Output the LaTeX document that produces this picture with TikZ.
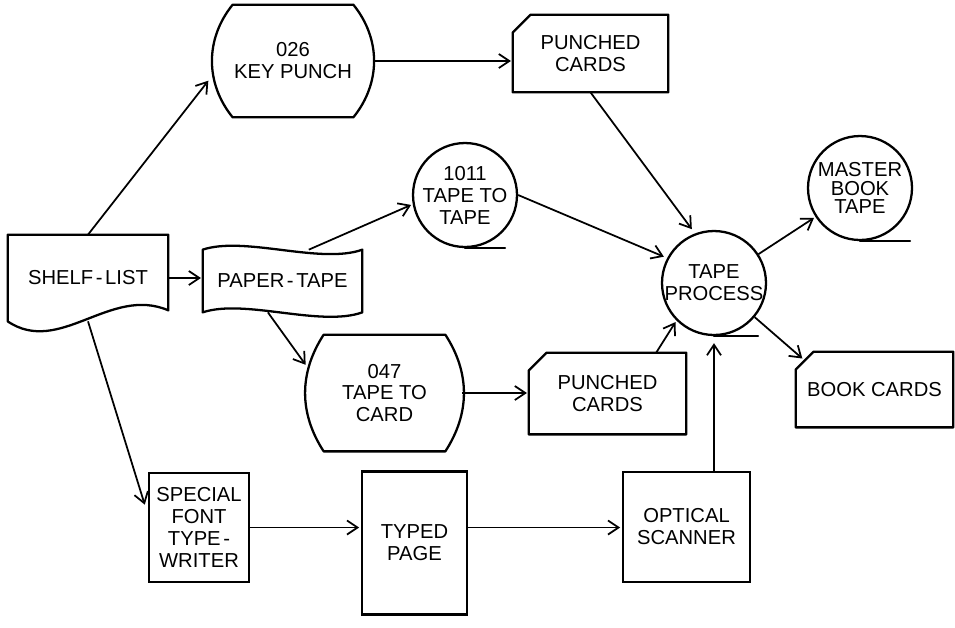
\documentclass[tikz,border=0pt]{standalone}
\usepackage{fontspec}
\setmainfont{Liberation Sans}
\usetikzlibrary{positioning}
\usetikzlibrary{calc}
\usetikzlibrary{arrows.meta}

\begin{document}
\begin{tikzpicture}[x=0.02cm, y=-0.02cm,
  outline/.style={line width=1.3pt, line join=round, line cap=round},
  link/.style={line width=1pt, -{Straight Barb[length=6pt,width=8pt]}, shorten >=1pt},
  lbl/.style={align=center, inner sep=0pt, font=\fontsize{11.5}{12.5}\selectfont},
  reel/.style={lbl, circle, draw, line width=1.3pt, inner sep=-3pt, minimum size=2.08cm},
  plain/.style={lbl, rectangle, draw, line width=1.3pt}]

\useasboundingbox (0,0) rectangle (955,627);

%---------------------------------------
% Outline helpers
%---------------------------------------
\def\cardoutline#1{%
  \draw[outline] (#1.south west) -- ($(#1.north west)+(0,18)$)
     -- ($(#1.north west)+(18,0)$) -- (#1.north east) -- (#1.south east) -- cycle;}
\def\machineoutline#1#2#3{% node, inset, bend
  \draw[outline] ($(#1.north west)+(#2,0)$) -- ($(#1.north east)+(-#2,0)$)
     to[bend left=#3] ($(#1.south east)+(-#2,0)$) -- ($(#1.south west)+(#2,0)$)
     to[bend left=#3] ($(#1.north west)+(#2,0)$);}
\def\dash{\kern1.5pt-\kern1.5pt}

%====================================================
% Source document and paper tape
%====================================================
\node[lbl, minimum width=3.2cm, minimum height=1.72cm] (shelf) at (88,278) {SHELF\dash LIST};
\draw[outline] (shelf.south west) -- (shelf.north west) -- (shelf.north east)
   -- ($(shelf.south east)+(0,-11)$) .. controls +(-58,-25) and +(52,35) .. (shelf.south west);

\node[lbl, minimum width=3.18cm, minimum height=1.24cm] (pt) at (282.5,281) {PAPER\dash TAPE};
\draw[outline] (pt.north west) .. controls +(42,-14) and +(-42,15) .. (pt.north east)
   -- (pt.south east) .. controls +(-42,15) and +(42,-14) .. (pt.south west) -- cycle;

%====================================================
% Machines
%====================================================
\node[lbl, minimum width=3.2cm, minimum height=2.24cm] (kp) at (293,61) {026\\KEY PUNCH};
\machineoutline{kp}{20}{39}

\node[lbl, minimum width=3.1cm, minimum height=2.32cm] (ttc) at (384.5,393) {047\\TAPE TO\\CARD};
\machineoutline{ttc}{17}{33}

% Tapes
\node[reel] (ttt) at (465,195) {1011\\TAPE TO\\TAPE};
\draw[outline] (ttt.south) -- ++(40,0);

\node[reel] (tproc) at (714,283) {TAPE\\PROCESS};
\draw[outline] (tproc.south) -- ++(44,0);

\node[reel, font=\fontsize{11.5}{10.5}\selectfont] (master) at (860,188) {MASTER\\BOOK\\TAPE};
\draw[outline] (master.south) -- ++(50,0);

%====================================================
% Cards
%====================================================
\node[lbl, minimum width=3.1cm, minimum height=1.54cm] (pcA) at (590.5,53.5) {PUNCHED\\CARDS};
\cardoutline{pcA}

\node[lbl, minimum width=3.14cm, minimum height=1.62cm] (pcB) at (607.5,393.5) {PUNCHED\\CARDS};
\cardoutline{pcB}

\node[lbl, minimum width=3.14cm, minimum height=1.5cm] (bc) at (874.5,389.5) {BOOK CARDS};
\cardoutline{bc}

%====================================================
% Optical route
%====================================================
\node[plain, minimum width=2cm, minimum height=2.18cm] (special) at (199,527.5) {SPECIAL\\FONT\\TYPE\kern1.5pt-\\WRITER};
\node[plain, minimum width=2.1cm, minimum height=2.86cm] (typed) at (414.5,543) {TYPED\\PAGE};
\node[plain, minimum width=2.54cm, minimum height=2.2cm] (scanner) at (686.5,527) {OPTICAL\\SCANNER};

%====================================================
% Connectors
%====================================================
\draw[link, shorten >=4pt] (shelf.north) -- (kp.190);
\draw[link] (kp.east) -- (kp.east -| pcA.west);
\draw[link, shorten >=3pt] (pcA.south) -- (tproc.111);
\draw[link] (shelf.east) -- (shelf.east -| pt.west);
\draw[link] (pt.50) -- (ttt.190);
\draw[link, shorten >=2pt] (ttt.east) -- (tproc.152);
\draw[link] (pt.-115) -- (ttc.161);
\draw[link] (ttc.east) -- (ttc.east -| pcB.west);
\draw[link] (pcB.40) -- (tproc.225);
\draw[link, shorten >=4pt] (tproc.south |- scanner.north) -- (tproc.south);
\draw[link] (tproc.33) -- (master.213);
\draw[link] (tproc.-40) -- ($(bc.north west)+(8,8)$);
\draw[link, shorten >=6pt] (shelf.south) -- (special.166);
\draw[link] (special.east) -- (special.east -| typed.west);
\draw[link] (special.east -| typed.east) -- (special.east -| scanner.west);

\end{tikzpicture}
\end{document}
